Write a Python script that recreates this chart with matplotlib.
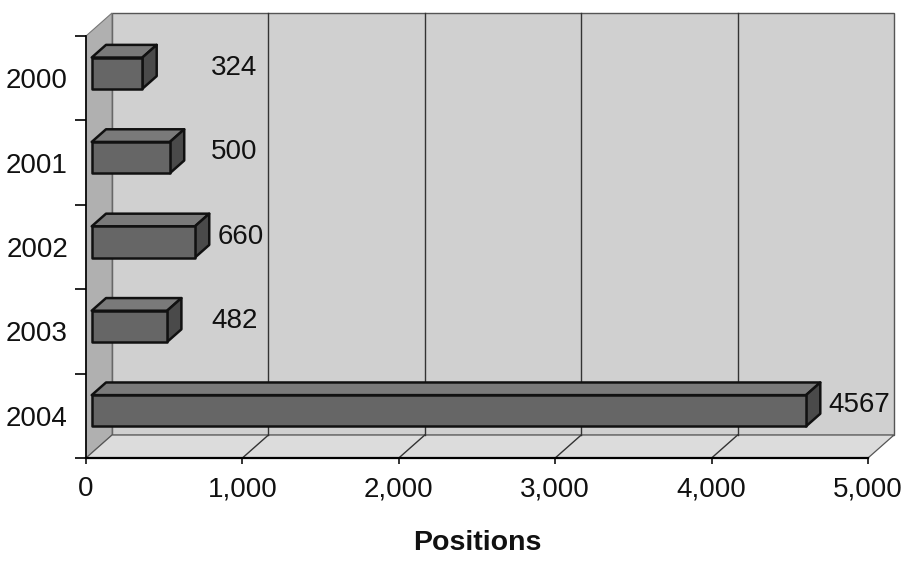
import matplotlib
matplotlib.use("Agg")
import matplotlib.pyplot as plt
from matplotlib.patches import Polygon
import numpy as np

# ---- data ----
years = ["2000", "2001", "2002", "2003", "2004"]
positions = [324, 500, 660, 482, 4567]
x_ticks = [0, 1000, 2000, 3000, 4000, 5000]
x_label = "Positions"

plt.rcParams['font.family'] = ['Liberation Sans', 'DejaVu Sans']

W, H = 907, 566
fig = plt.figure(figsize=(W / 100, H / 100), dpi=100)
fig.patch.set_facecolor("white")
ax = fig.add_axes([86 / W, (H - 458) / H, 782 / W, 422 / H])
xmax = 5000
n = len(years)
ax.set_xlim(0, xmax)
ax.set_ylim(-0.5, n - 0.5)
ax.set_facecolor("none")
for s in ax.spines.values():
    s.set_visible(False)

# depth offsets in data units
px_x = 782 / xmax
px_y = 422 / n
DX = 26 / px_x
DY = 23 / px_y

def P(x, y, d):
    return (x + d * DX, y + d * DY)

y0, y1 = -0.5, n - 0.5
# walls
back = Polygon([P(0, y0, 1), P(xmax, y0, 1), P(xmax, y1, 1), P(0, y1, 1)],
               closed=True, facecolor="#d0d0d0", edgecolor="#555555", lw=1.0,
               clip_on=False, zorder=1)
left = Polygon([P(0, y0, 0), P(0, y0, 1), P(0, y1, 1), P(0, y1, 0)],
               closed=True, facecolor="#b0b0b0", edgecolor="#777777", lw=0.8,
               clip_on=False, zorder=1)
floor = Polygon([P(0, y0, 0), P(xmax, y0, 0), P(xmax, y0, 1), P(0, y0, 1)],
                closed=True, facecolor="#dcdcdc", edgecolor="#555555", lw=0.9,
                clip_on=False, zorder=1)
for p in (back, left, floor):
    ax.add_patch(p)

# gridlines on back wall and floor
for t in x_ticks[1:-1]:
    xa, ya = P(t, y0, 1)
    xb, yb = P(t, y1, 1)
    ax.plot([xa, xb], [ya, yb], color="#333333", lw=1.0, clip_on=False, zorder=2)
    xc, yc = P(t, y0, 0)
    ax.plot([xc, xa], [yc, ya], color="#333333", lw=1.0, clip_on=False, zorder=2)

# front axes lines
ax.plot([0, xmax], [y0, y0], color="black", lw=1.6, clip_on=False, zorder=3)
ax.plot([0, 0], [y0, y1], color="black", lw=1.2, clip_on=False, zorder=3)

# bars
h = 0.37
df, db = 0.22, 0.77
for i, (yr, v) in enumerate(zip(years, positions)):
    c = n - 1 - i
    b, t = c - h / 2, c + h / 2
    front = [P(0, b, df), P(v, b, df), P(v, t, df), P(0, t, df)]
    top = [P(0, t, df), P(v, t, df), P(v, t, db), P(0, t, db)]
    side = [P(v, b, df), P(v, b, db), P(v, t, db), P(v, t, df)]
    for poly, fc in ((top, "#7a7a7a"), (side, "#4a4a4a"), (front, "#666666")):
        ax.add_patch(Polygon(poly, closed=True, facecolor=fc, edgecolor="#111111",
                             lw=1.8, joinstyle="round", clip_on=False, zorder=5))
    lx = max(v + 180, 800)
    ax.text(lx, c + 0.45 * DY, str(v), ha="left", va="center",
            fontsize=20, color="#111111", zorder=6, clip_on=False)

# ticks
ax.set_xticks(x_ticks)
ax.set_xticklabels([f"{t:,}" for t in x_ticks])
ax.tick_params(axis="x", direction="out", length=4, width=1.2, pad=9,
               labelsize=20, colors="#111111")
ax.set_yticks(np.arange(-0.5, n, 1.0))
ax.set_yticklabels([])
ax.tick_params(axis="y", which="major", direction="out", length=8, width=1.2)
ax.set_yticks(np.arange(n), minor=True)
ax.set_yticklabels(years[::-1], minor=True)
ax.tick_params(axis="y", which="minor", length=0, pad=13, labelsize=20,
               colors="#111111")
ax.set_xlabel(x_label, fontsize=20.5, fontweight="bold", labelpad=20, color="#111111")

fig.savefig("out.png", dpi=100, facecolor="white")
